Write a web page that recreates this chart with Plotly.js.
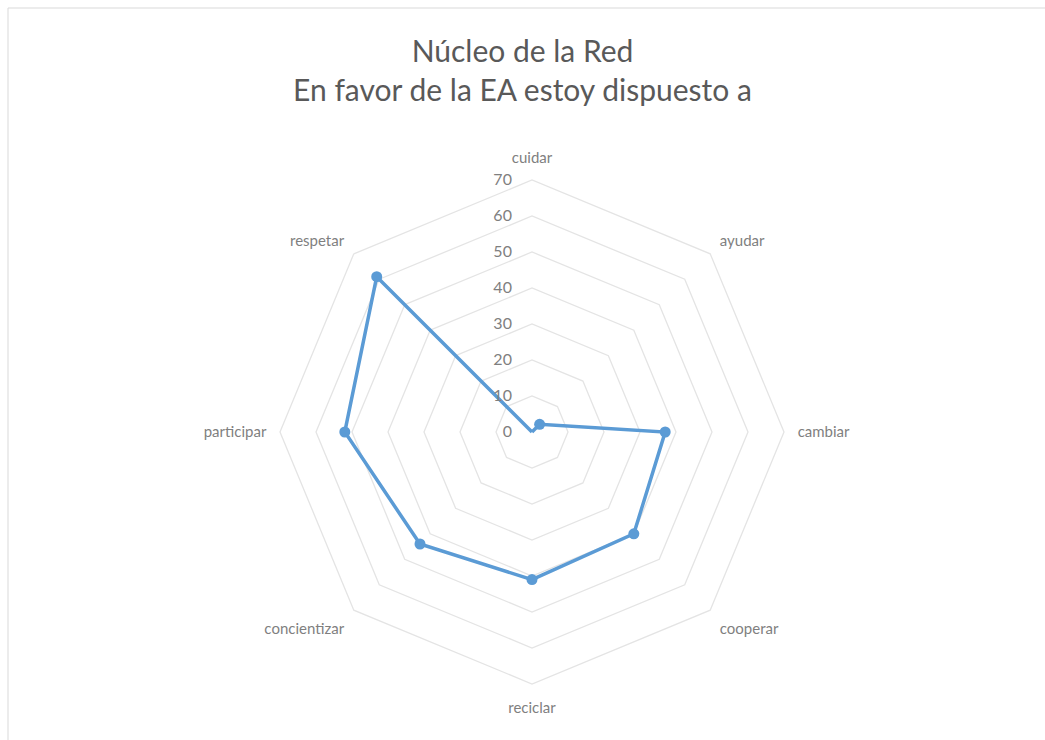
<!DOCTYPE html>
<html>
<head>
<meta charset="utf-8">
<script src="https://cdn.plot.ly/plotly-3.0.1.min.js"></script>
<style>html,body{margin:0;padding:0;background:#fff;}#chart{width:1045px;height:740px;}</style>
</head>
<body>
<div id="chart"></div>
<script>
const categories = ["cuidar", "ayudar", "cambiar", "cooperar", "reciclar", "concientizar", "participar", "respetar"];
const values = [0, 3, 37, 40, 41, 44, 52, 61];
const radialTicks = [0, 10, 20, 30, 40, 50, 60, 70];
const titleLines = ["Núcleo de la Red", "En favor de la EA estoy dispuesto a"];

const W = 1045, H = 740;
const cx = 532, cy = 432, R = 252;

const trace = {
  type: "scatterpolar",
  r: values.concat([values[0]]),
  theta: categories.concat([categories[0]]),
  mode: "lines+markers",
  line: {color: "#5b9bd5", width: 3.5},
  marker: {color: "#5b9bd5", size: 11},
  hoverinfo: "skip",
  cliponaxis: false
};

const layout = {
  width: W, height: H,
  margin: {l: 0, r: 0, t: 0, b: 0},
  paper_bgcolor: "#ffffff",
  showlegend: false,
  font: {family: "Lato, 'Open Sans', sans-serif", color: "#595959", size: 14},
  title: {
    text: titleLines.join("<br>"),
    font: {family: "Lato, 'Open Sans', sans-serif", size: 30, color: "#595959"},
    x: 0.5, xanchor: "center",
    y: 1 - 62 / H, yanchor: "top"
  },
  polar: {
    domain: {x: [(cx - R) / W, (cx + R) / W], y: [(H - cy - R) / H, (H - cy + R) / H]},
    bgcolor: "rgba(0,0,0,0)",
    gridshape: "linear",
    radialaxis: {
      range: [0, 70],
      tickvals: radialTicks,
      ticktext: radialTicks.map(String),
      angle: 90,
      tickangle: 90,
      side: "counterclockwise",
      showline: false,
      ticks: "outside",
      ticklen: 14,
      tickcolor: "rgba(0,0,0,0)",
      gridcolor: "#e4e4e4",
      gridwidth: 1.3,
      tickfont: {size: 16, color: "#7f7f7f"}
    },
    angularaxis: {
      rotation: 90,
      direction: "clockwise",
      showgrid: false,
      showline: true,
      linecolor: "#e4e4e4",
      linewidth: 1.3,
      ticks: "outside",
      ticklen: 10,
      tickcolor: "rgba(0,0,0,0)",
      tickfont: {size: 15, color: "#7f7f7f"}
    }
  },
  shapes: [{
    type: "rect", xref: "paper", yref: "paper",
    x0: 8 / W, x1: 1.02, y0: -0.02, y1: 1 - 8 / H,
    line: {color: "#d9d9d9", width: 1}
  }]
};

Plotly.newPlot("chart", [trace], layout, {displayModeBar: false, staticPlot: true});
</script>
</body>
</html>
